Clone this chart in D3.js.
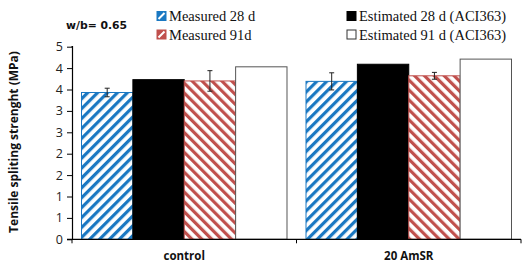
<!DOCTYPE html>
<html><head><meta charset="utf-8">
<script src="https://cdn.jsdelivr.net/npm/d3@7"></script>
<style>body{margin:0;background:#fff}svg{display:block}</style>
</head><body>
<svg id="c" width="530" height="270"></svg>
<script>
const categories = ["control", "20 AmSR"];
const seriesNames = ["Measured 28 d", "Estimated 28 d (ACI363)", "Measured 91d", "Estimated 91 d (ACI363)"];
const measured28 = [3.43, 3.69];
const estimated28 = [3.73, 4.09];
const measured91 = [3.70, 3.82];
const estimated91 = [4.03, 4.21];
const err28 = [0.10, 0.20];
const err91 = [0.24, 0.08];
const yTicks = [0, 0.5, 1, 1.5, 2, 2.5, 3, 3.5, 4, 4.5];

const svg = d3.select("#c");
const pLeft = 72, pRight = 521, pTop = 46.7, pBottom = 239.3;

const defs = svg.append("defs");
function hatch(id, color, angle) {
  const p = defs.append("pattern").attr("id", id).attr("patternUnits", "userSpaceOnUse")
    .attr("width", 7).attr("height", 7).attr("patternTransform", `rotate(${angle})`);
  p.append("rect").attr("width", 7).attr("height", 7).attr("fill", "#fff");
  p.append("rect").attr("x", 0).attr("y", 0).attr("width", 3.2).attr("height", 7).attr("fill", color);
}
const blue = "#1a78c2", red = "#c0504d";
hatch("hb", blue, 45);
hatch("hr", red, -45);

const series = [
  {name: seriesNames[0], values: measured28, err: err28, fill: "url(#hb)", stroke: blue, lfill: blue},
  {name: seriesNames[1], values: estimated28, err: null, fill: "#000", stroke: "#000", lfill: "#000"},
  {name: seriesNames[2], values: measured91, err: err91, fill: "url(#hr)", stroke: red, lfill: red},
  {name: seriesNames[3], values: estimated91, err: null, fill: "#fff", stroke: "#555", lfill: "#fff"}
];

const x0 = d3.scaleBand().domain(categories).range([pLeft, pRight]).paddingInner(0).paddingOuter(0);
const x1 = d3.scaleBand().domain(d3.range(series.length)).range([0, x0.bandwidth()]).paddingInner(0).paddingOuter(0.185);
const y = d3.scaleLinear().domain([0, 4.5]).range([pBottom, pTop]);

// bars
series.forEach((s, i) => {
  svg.append("g").selectAll("rect").data(categories).join("rect")
    .attr("x", c => x0(c) + x1(i))
    .attr("y", (c, j) => y(s.values[j]))
    .attr("width", x1.bandwidth())
    .attr("height", (c, j) => pBottom - y(s.values[j]))
    .attr("fill", s.fill)
    .attr("stroke", s.stroke).attr("stroke-width", 1);
  if (s.err) {
    const g = svg.append("g").attr("stroke", "#222").attr("stroke-width", 1);
    categories.forEach((c, j) => {
      const cx = x0(c) + x1(i) + x1.bandwidth() / 2;
      const y1 = y(s.values[j] + s.err[j]), y2 = y(s.values[j] - s.err[j]);
      g.append("line").attr("x1", cx).attr("x2", cx).attr("y1", y1).attr("y2", y2);
      g.append("line").attr("x1", cx - 2.5).attr("x2", cx + 2.5).attr("y1", y1).attr("y2", y1);
      g.append("line").attr("x1", cx - 2.5).attr("x2", cx + 2.5).attr("y1", y2).attr("y2", y2);
    });
  }
});

// y axis
const yAxis = d3.axisLeft(y).tickValues(yTicks).tickFormat(d => d3.format(".0f")(Math.round(d + 0.001))).tickSize(5).tickPadding(4);
const gy = svg.append("g").attr("transform", `translate(${pLeft},0)`).call(yAxis);
gy.select(".domain").attr("d", `M-0.5,${pTop}H0.5V${pBottom}`).attr("stroke", "#000").attr("stroke-width", 1.2);
gy.selectAll(".tick line").attr("stroke", "#000");
gy.selectAll("text").attr("font-family", "'Open Sans', 'DejaVu Sans', sans-serif").attr("font-size", 12.5).attr("fill", "#222");

// x axis
const gx = svg.append("g").attr("transform", `translate(0,${pBottom})`);
gx.append("line").attr("x1", pLeft - 5).attr("x2", pRight).attr("y1", 0).attr("y2", 0).attr("stroke", "#000").attr("stroke-width", 1.2);
[pLeft, pLeft + x0.bandwidth(), pRight].forEach(t => {
  gx.append("line").attr("x1", t).attr("x2", t).attr("y1", 0).attr("y2", 4).attr("stroke", "#000");
});
gx.selectAll("text.cat").data(categories).join("text").attr("class", "cat")
  .attr("x", c => x0(c) + x0.bandwidth() / 2).attr("y", 21)
  .attr("text-anchor", "middle").attr("font-family", "'Open Sans', 'DejaVu Sans', sans-serif")
  .attr("font-weight", "bold").attr("font-size", 11.5).attr("fill", "#111").text(c => c);

// y title
svg.append("text").attr("transform", `translate(18,${(pTop + pBottom) / 2 - 1}) rotate(-90)`)
  .attr("text-anchor", "middle").attr("font-family", "'Open Sans', 'DejaVu Sans', sans-serif")
  .attr("font-weight", "bold").attr("font-size", 12).attr("fill", "#111")
  .text("Tensile spliting strenght (MPa)");

// annotation
svg.append("text").attr("x", 66).attr("y", 28.5).attr("font-family", "'DejaVu Sans', 'Open Sans', sans-serif")
  .attr("font-weight", "bold").attr("font-size", 10.8).attr("fill", "#111").text("w/b= 0.65");

// legend
const legPos = [[157, 16], [347, 16], [157, 34.5], [347, 34.5]];
series.forEach((s, i) => {
  const [lx, ly] = legPos[i];
  svg.append("rect").attr("x", lx).attr("y", ly - 4.5).attr("width", 9).attr("height", 9)
    .attr("fill", s.lfill).attr("stroke", s.stroke === "#555" ? "#333" : s.stroke);
  if (s.err) {
    svg.append("path").attr("d", `M${lx + 1.5},${ly + 3} L${lx + 7.5},${ly - 3}`).attr("stroke", "#fff").attr("stroke-width", 2);
  }
  svg.append("text").attr("x", lx + 12).attr("y", ly + 5)
    .attr("font-family", "'Liberation Serif', 'Times New Roman', serif").attr("font-size", 14.5).attr("fill", "#111")
    .text(s.name);
});
</script>
</body></html>
